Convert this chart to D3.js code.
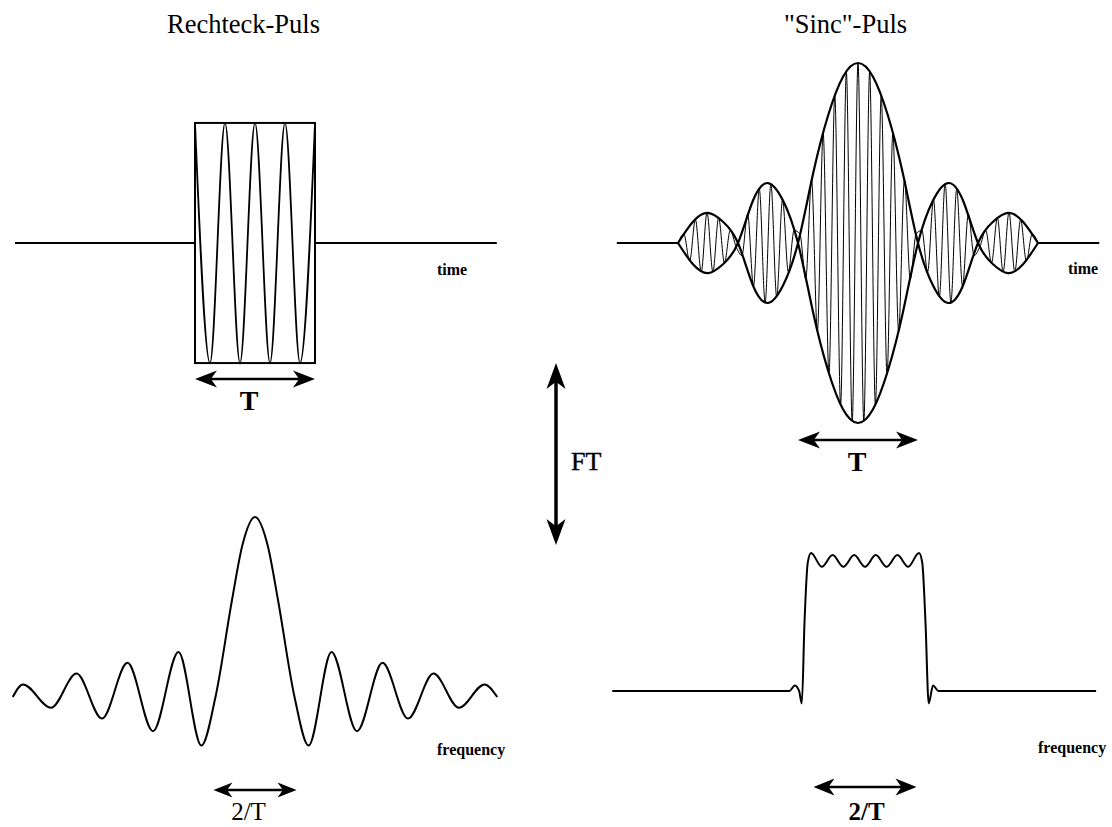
<!DOCTYPE html>
<html lang="de">
<head>
<meta charset="UTF-8">
<title>Rechteck-Puls und Sinc-Puls</title>
<script src="https://d3js.org/d3.v7.min.js"></script>
<style>
  body { margin: 0; background: #fff; }
  svg { display: block; }
  text { font-family: "Liberation Serif", "Times New Roman", serif; fill: #000; }
  .title { font-size: 26.5px; }
  .axis-name { font-size: 16px; font-weight: bold; }
  .mark-label { font-size: 26px; }
  .bold { font-weight: bold; }
  .thick { fill: none; stroke: #000; stroke-width: 2px; }
  .thin { fill: none; stroke: #000; stroke-width: 1px; }
</style>
</head>
<body>
<svg width="1112" height="827"></svg>
<script>
// ---- values ----
const titles = ["Rechteck-Puls", "\"Sinc\"-Puls"];

// top left: rectangular pulse (time in units of T/2, amplitude relative to sinc peak)
const rectBaseline = [-4, 4.03];
const rectEdges = [-1, 1];
const rectHeight = 0.667;
const rectCarrierT = [-1, -0.75, -0.5, -0.25, 0, 0.25, 0.5, 0.75, 1];
const rectCarrierA = [0.667, -0.667, 0.667, -0.667, 0.667, -0.667, 0.667, -0.667, 0.667];

// top right: sinc envelope and carrier tips
const sincBaseline = [-4.02, 4.02];
const sincEnvT = [-3, -2.75, -2.5, -2.25, -2, -1.75, -1.5, -1.25, -1, -0.75, -0.5, -0.25, 0,
                  0.25, 0.5, 0.75, 1, 1.25, 1.5, 1.75, 2, 2.25, 2.5, 2.75, 3];
const sincEnvA = [0, 0.118, 0.167, 0.118, 0, -0.236, -0.333, -0.236, 0, 0.383, 0.707, 0.924, 1,
                  0.924, 0.707, 0.383, 0, -0.236, -0.333, -0.236, 0, 0.118, 0.167, 0.118, 0];
const sincCarrierT = [-3.000, -2.903, -2.806, -2.710, -2.613, -2.516, -2.419, -2.323, -2.226, -2.129,
  -2.032, -1.935, -1.839, -1.742, -1.645, -1.548, -1.452, -1.355, -1.258, -1.161, -1.065, -0.968,
  -0.871, -0.774, -0.677, -0.581, -0.484, -0.387, -0.290, -0.194, -0.097, 0, 0.097, 0.194, 0.290,
  0.387, 0.484, 0.581, 0.677, 0.774, 0.871, 0.968, 1.065, 1.161, 1.258, 1.355, 1.452, 1.548, 1.645,
  1.742, 1.839, 1.935, 2.032, 2.129, 2.226, 2.323, 2.419, 2.516, 2.613, 2.710, 2.806, 2.903, 3.000];
const sincCarrierA = [0, 0.05, -0.10, 0.13, -0.16, 0.17, -0.16, 0.14, -0.11, 0.07,
  -0.02, -0.07, 0.16, -0.24, 0.30, -0.33, 0.33, -0.30, 0.24, -0.16, 0.07, 0.05,
  -0.20, 0.35, -0.49, 0.61, -0.73, 0.82, -0.90, 0.95, -0.99, 1, -0.99, 0.95, -0.90,
  0.82, -0.73, 0.61, -0.49, 0.35, -0.20, 0.05, 0.07, -0.16, 0.24, -0.30, 0.33, -0.33, 0.30,
  -0.24, 0.16, -0.07, -0.02, 0.07, -0.11, 0.14, -0.16, 0.17, -0.16, 0.13, -0.10, 0.05, 0];

// bottom left: sinc spectrum (extrema and a few flank points)
const specLF = [-9.5, -9.1, -8, -7, -6, -5, -4, -3, -2.1, -1.55, -0.9, -0.5, 0,
                0.5, 0.9, 1.55, 2.1, 3, 4, 5, 6, 7, 8, 9, 9.5];
const specLA = [0, 0.07, -0.06, 0.13, -0.12, 0.19, -0.19, 0.25, -0.27, 0, 0.54, 0.84, 1,
                0.84, 0.54, 0, -0.27, 0.25, -0.19, 0.19, -0.12, 0.13, -0.06, 0.07, 0];

// bottom right: rectangular spectrum with ripple
const specRF = [-23.4, -7, -6.5, -6.1, -5.85, -5.6, -5.3, -5, -4, -3, -2, -1, 0,
                1, 2, 3, 4, 5, 5.3, 5.6, 5.9, 6.3, 6.8, 21.4];
const specRA = [0, 0, 0.04, 0, -0.09, 0.5, 0.93, 1, 0.9, 0.985, 0.9, 0.985, 0.9,
                0.985, 0.9, 0.985, 0.9, 1, 0.93, 0.5, -0.09, 0.04, 0, 0];

// width markers
const rectWidth = [-1, 1];
const sincWidth = [-1, 1];
const specLWidth = [-1.63, 1.63];
const specRWidth = [-4.77, 4.77];
const widthLabels = ["T", "T", "2/T", "2/T"];

// ---- drawing ----
const svg = d3.select("svg");

const xTL = d3.scaleLinear().domain([-1, 1]).range([195, 315]);
const xTR = d3.scaleLinear().domain([-1, 1]).range([798, 918]);
const yTop = d3.scaleLinear().domain([-1, 1]).range([423, 63]);
const xBL = d3.scaleLinear().domain([-1, 1]).range([229.5, 280.5]);
const yBL = d3.scaleLinear().domain([0, 1]).range([697, 517]);
const xBR = d3.scaleLinear().domain([-1, 1]).range([854.2, 875.8]);
const yBR = d3.scaleLinear().domain([0, 1]).range([691, 553]);

function lineOf(x, y, curve) {
  return d3.line().x(d => x(d[0])).y(d => y(d[1])).curve(curve || d3.curveLinear);
}

// titles
svg.selectAll(".title").data(titles).enter().append("text")
  .attr("class", "title")
  .attr("x", (d, i) => i === 0 ? 243.5 : 845.5)
  .attr("y", 33)
  .attr("text-anchor", "middle")
  .text(d => d);

// --- top left ---
const tl = svg.append("g");
tl.append("path").attr("class", "thick")
  .attr("d", lineOf(xTL, yTop)([[rectBaseline[0], 0], [rectEdges[0], 0]]));
tl.append("path").attr("class", "thick")
  .attr("d", lineOf(xTL, yTop)([[rectEdges[1], 0], [rectBaseline[1], 0]]));
tl.append("rect").attr("class", "thick")
  .attr("x", xTL(rectEdges[0]))
  .attr("y", yTop(rectHeight))
  .attr("width", xTL(rectEdges[1]) - xTL(rectEdges[0]))
  .attr("height", yTop(-rectHeight) - yTop(rectHeight));
tl.append("path").attr("class", "thick").style("stroke-width", "1.8px")
  .attr("d", lineOf(xTL, yTop, d3.curveMonotoneX)(rectCarrierT.map((t, i) => [t, rectCarrierA[i]])));

// --- top right ---
const tr = svg.append("g");
tr.append("path").attr("class", "thick")
  .attr("d", lineOf(xTR, yTop)([[sincBaseline[0], 0], [sincEnvT[0], 0]]));
tr.append("path").attr("class", "thick")
  .attr("d", lineOf(xTR, yTop)([[sincEnvT[sincEnvT.length - 1], 0], [sincBaseline[1], 0]]));
tr.append("path").attr("class", "thin")
  .attr("d", lineOf(xTR, yTop, d3.curveMonotoneX)(sincCarrierT.map((t, i) => [t, sincCarrierA[i]])));
[1, -1].forEach(s => {
  tr.append("path").attr("class", "thick").style("stroke-width", "2.2px")
    .attr("d", lineOf(xTR, yTop, d3.curveNatural)(sincEnvT.map((t, i) => [t, s * sincEnvA[i]])));
});

// --- bottom left ---
svg.append("path").attr("class", "thick")
  .attr("d", lineOf(xBL, yBL, d3.curveMonotoneX)(specLF.map((f, i) => [f, specLA[i]])));

// --- bottom right ---
svg.append("path").attr("class", "thick")
  .attr("d", lineOf(xBR, yBR, d3.curveMonotoneX)(specRF.map((f, i) => [f, specRA[i]])));

// axis names
const axisNames = [
  { t: "time", x: 437, y: 275 },
  { t: "time", x: 1068, y: 274 },
  { t: "frequency", x: 437, y: 755 },
  { t: "frequency", x: 1038, y: 753 }
];
svg.selectAll(".axis-name").data(axisNames).enter().append("text")
  .attr("class", "axis-name")
  .attr("x", d => d.x).attr("y", d => d.y)
  .text(d => d.t);

// double arrows
function arrowHead(g, x, y, dir, len, half) {
  // dir: unit vector [dx, dy] pointing out of the tip
  const [dx, dy] = dir, px = -dy, py = dx;
  const p = [
    [x, y],
    [x - dx * len + px * half, y - dy * len + py * half],
    [x - dx * len * 0.72, y - dy * len * 0.72],
    [x - dx * len - px * half, y - dy * len - py * half]
  ];
  g.append("path").attr("d", "M" + p.join("L") + "Z").attr("fill", "#000");
}
function hArrow(x1, x2, y, sw, len, half) {
  const g = svg.append("g");
  g.append("line").attr("x1", x1 + len * 0.6).attr("x2", x2 - len * 0.6)
    .attr("y1", y).attr("y2", y).attr("stroke", "#000").attr("stroke-width", sw);
  arrowHead(g, x1, y, [-1, 0], len, half);
  arrowHead(g, x2, y, [1, 0], len, half);
}
hArrow(xTL(rectWidth[0]), xTL(rectWidth[1]), 379, 2.5, 22, 8.5);
hArrow(xTR(sincWidth[0]), xTR(sincWidth[1]), 440, 2.5, 22, 8.5);
hArrow(xBL(specLWidth[0]), xBL(specLWidth[1]), 790, 2.5, 19, 7.5);
hArrow(xBR(specRWidth[0]), xBR(specRWidth[1]), 787, 2.5, 21, 8.5);

// FT arrow
const ft = svg.append("g");
ft.append("line").attr("x1", 556).attr("x2", 556).attr("y1", 380).attr("y2", 528)
  .attr("stroke", "#000").attr("stroke-width", 3.5);
arrowHead(ft, 556, 363, [0, -1], 26, 9.5);
arrowHead(ft, 556, 545, [0, 1], 26, 9.5);
ft.append("text").attr("class", "mark-label").attr("x", 571).attr("y", 470)
  .style("stroke", "#000").style("stroke-width", "0.4px").text("FT");

// width labels
const labelPos = [
  { x: 249, y: 410, bold: true, size: 28 },
  { x: 857, y: 471, bold: true, size: 28 },
  { x: 248.5, y: 820, bold: false, size: 25 },
  { x: 866.5, y: 820, bold: true, size: 25 }
];
svg.selectAll(".mark-label.w").data(widthLabels).enter().append("text")
  .attr("class", (d, i) => "mark-label w" + (labelPos[i].bold ? " bold" : ""))
  .attr("x", (d, i) => labelPos[i].x)
  .attr("y", (d, i) => labelPos[i].y)
  .style("font-size", (d, i) => labelPos[i].size + "px")
  .attr("text-anchor", "middle")
  .text(d => d);
</script>
</body>
</html>
